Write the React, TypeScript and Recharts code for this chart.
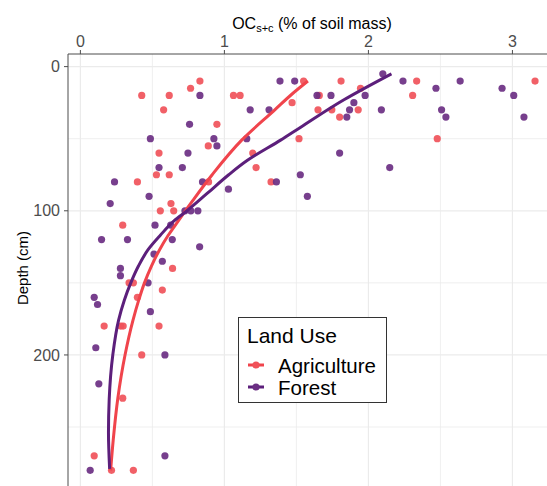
import { ScatterChart, Scatter, XAxis, YAxis, ReferenceLine } from 'recharts';

// measured points: organic carbon (%) and sampling depth (cm)
const agriOC = [
  0.83, 1.55, 1.81, 2.335, 3.157, 0.765, 1.945, 0.426, 0.617, 1.063, 1.109, 1.659, 2.307, 1.47,
  0.578, 1.65, 1.746, 1.929, 1.8, 0.948, 1.518, 2.478, 0.888, 0.546, 1.197, 1.22, 0.528, 0.617,
  0.396, 0.89, 1.324, 0.629, 0.555, 0.648, 0.294, 0.64, 0.338, 0.368, 0.569, 0.396, 0.165, 0.28,
  0.297, 0.546, 0.426, 0.294, 0.096, 0.216, 0.368,
];
const agriDepth = [
  10, 10, 10, 10, 10, 15, 15, 20, 20, 20, 20, 20, 20, 25,
  30, 30, 30, 30, 35, 40, 50, 50, 55, 60, 60, 70, 75, 75,
  80, 80, 80, 95, 100, 100, 110, 140, 150, 150, 155, 160, 180, 180,
  180, 180, 200, 230, 270, 280, 280,
];

const forestOC = [
  2.1, 1.386, 1.488, 2.24, 2.637, 2.469, 2.928, 0.83, 1.643, 1.74, 1.977, 3.009, 1.899,
  1.179, 1.31, 1.869, 2.09, 2.508, 1.85, 2.538, 3.08, 0.758, 0.486, 0.927, 1.155, 0.948,
  0.747, 1.8, 0.546, 0.708, 2.148, 1.527, 0.237, 0.848, 1.361, 1.028, 0.477, 1.576, 0.207,
  0.726, 0.767, 0.816, 0.518, 0.627, 0.147, 0.327, 0.638, 0.828, 0.511, 0.569, 0.278, 0.278,
  0.47, 0.096, 0.119, 0.486, 0.107, 0.587, 0.128, 0.587, 0.068,
];
const forestDepth = [
  5, 10, 10, 10, 10, 15, 15, 20, 20, 20, 20, 20, 25,
  30, 30, 30, 30, 30, 35, 35, 35, 40, 50, 50, 50, 55,
  60, 60, 70, 70, 70, 75, 80, 80, 80, 85, 90, 90, 95,
  100, 100, 100, 110, 110, 120, 120, 120, 125, 130, 135, 140, 145,
  150, 160, 165, 170, 195, 200, 220, 270, 280,
];

// fitted trend lines
const agriFitDepth = [10, 19, 30, 51, 75, 93, 107, 117, 127, 138, 150, 162, 176, 200, 230, 259, 280];
const agriFitOC = [1.58, 1.47, 1.35, 1.12, 0.915, 0.78, 0.68, 0.61, 0.55, 0.495, 0.445, 0.405, 0.365, 0.31, 0.26, 0.228, 0.21];
const forestFitDepth = [5, 23, 42, 51, 65, 75, 88, 100, 107, 117, 127, 138, 150, 162, 176, 200, 231, 254, 279];
const forestFitOC = [2.16, 1.83, 1.53, 1.39, 1.16, 1.03, 0.88, 0.74, 0.65, 0.555, 0.47, 0.405, 0.35, 0.305, 0.265, 0.225, 0.2, 0.195, 0.203];

const xTicks = [0, 1, 2, 3];
const yTicks = [0, 100, 200];
const xGrid = [0, 0.5, 1, 1.5, 2, 2.5, 3];
const yGrid = [0, 50, 100, 150, 200, 250];

const RED = '#F0525A';
const PURPLE = '#6B2F83';
const RED_LINE = '#F0444C';
const PURPLE_LINE = '#5C1F7B';
const FONT = '"Liberation Sans", Arial, sans-serif';

const pts = (oc: number[], depth: number[]) => oc.map((v, i) => ({ oc: v, depth: depth[i] }));

const dot = (color: string) => (props: any) => (
  <circle cx={props.cx} cy={props.cy} r={3.6} fill={color} fillOpacity={0.92} />
);

export default function App() {
  return (
    <div style={{ position: 'absolute', left: 0, top: 0, width: 547, height: 486, background: '#fff', fontFamily: FONT }}>
      <style>{'body{margin:0}'}</style>
      <ScatterChart width={547} height={486} margin={{ top: 0, right: 0, bottom: 0, left: 0 }}>
        <XAxis
          type="number"
          dataKey="oc"
          orientation="top"
          domain={[-0.086, 3.24]}
          ticks={xTicks}
          allowDataOverflow
          height={54}
          tickSize={4}
          tickMargin={3}
          stroke="#4d4d4d"
          tick={{ fill: '#4d4d4d', fontSize: 16, fontFamily: FONT }}
          label={{
            content: () => (
              <text x={312} y={29} textAnchor="middle" fill="#000" fontSize={16} fontFamily={FONT}>
                OC
                <tspan fontSize={11} dy={3}>s+c</tspan>
                <tspan dy={-3}> (% of soil mass)</tspan>
              </text>
            ),
          }}
        />
        <YAxis
          type="number"
          dataKey="depth"
          reversed
          domain={[-8.75, 290.9]}
          ticks={yTicks}
          allowDataOverflow
          width={68}
          tickSize={4}
          tickMargin={4}
          stroke="#4d4d4d"
          tick={{ fill: '#4d4d4d', fontSize: 16, fontFamily: FONT }}
          label={{
            content: () => (
              <text x={22} y={268} transform="rotate(-90 22 268)" textAnchor="middle" dominantBaseline="central" fill="#000" fontSize={15} fontFamily={FONT}>
                Depth (cm)
              </text>
            ),
          }}
        />
        {xGrid.map((v) => (
          <ReferenceLine key={'x' + v} x={v} stroke="#ebebeb" strokeWidth={v % 1 === 0 ? 1.2 : 0.8} />
        ))}
        {yGrid.map((v) => (
          <ReferenceLine key={'y' + v} y={v} stroke="#ebebeb" strokeWidth={v % 100 === 0 ? 1.2 : 0.8} />
        ))}
        <Scatter data={pts(agriOC, agriDepth)} shape={dot(RED)} isAnimationActive={false} />
        <Scatter data={pts(forestOC, forestDepth)} shape={dot(PURPLE)} isAnimationActive={false} />
        <Scatter
          data={pts(agriFitOC, agriFitDepth)}
          line={{ stroke: RED_LINE, strokeWidth: 3 }}
          lineJointType="monotoneY"
          shape={() => <g />}
          isAnimationActive={false}
        />
        <Scatter
          data={pts(forestFitOC, forestFitDepth)}
          line={{ stroke: PURPLE_LINE, strokeWidth: 3 }}
          lineJointType="monotoneY"
          shape={() => <g />}
          isAnimationActive={false}
        />
      </ScatterChart>
      <div
        style={{
          position: 'absolute',
          left: 238,
          top: 317,
          width: 149,
          height: 86,
          border: '1px solid #333',
          background: '#fff',
          boxSizing: 'border-box',
        }}
      >
        <svg width={147} height={84}>
          <text x={8} y={25} fontSize={21} fontFamily={FONT} fill="#000">Land Use</text>
          <line x1={9} x2={25} y1={47} y2={47} stroke={RED_LINE} strokeWidth={3} />
          <circle cx={17} cy={47} r={3.6} fill={RED} />
          <text x={39} y={55} fontSize={20.5} fontFamily={FONT} fill="#000">Agriculture</text>
          <line x1={9} x2={25} y1={69} y2={69} stroke={PURPLE_LINE} strokeWidth={3} />
          <circle cx={17} cy={69} r={3.6} fill={PURPLE} />
          <text x={39} y={77} fontSize={20.5} fontFamily={FONT} fill="#000">Forest</text>
        </svg>
      </div>
    </div>
  );
}
